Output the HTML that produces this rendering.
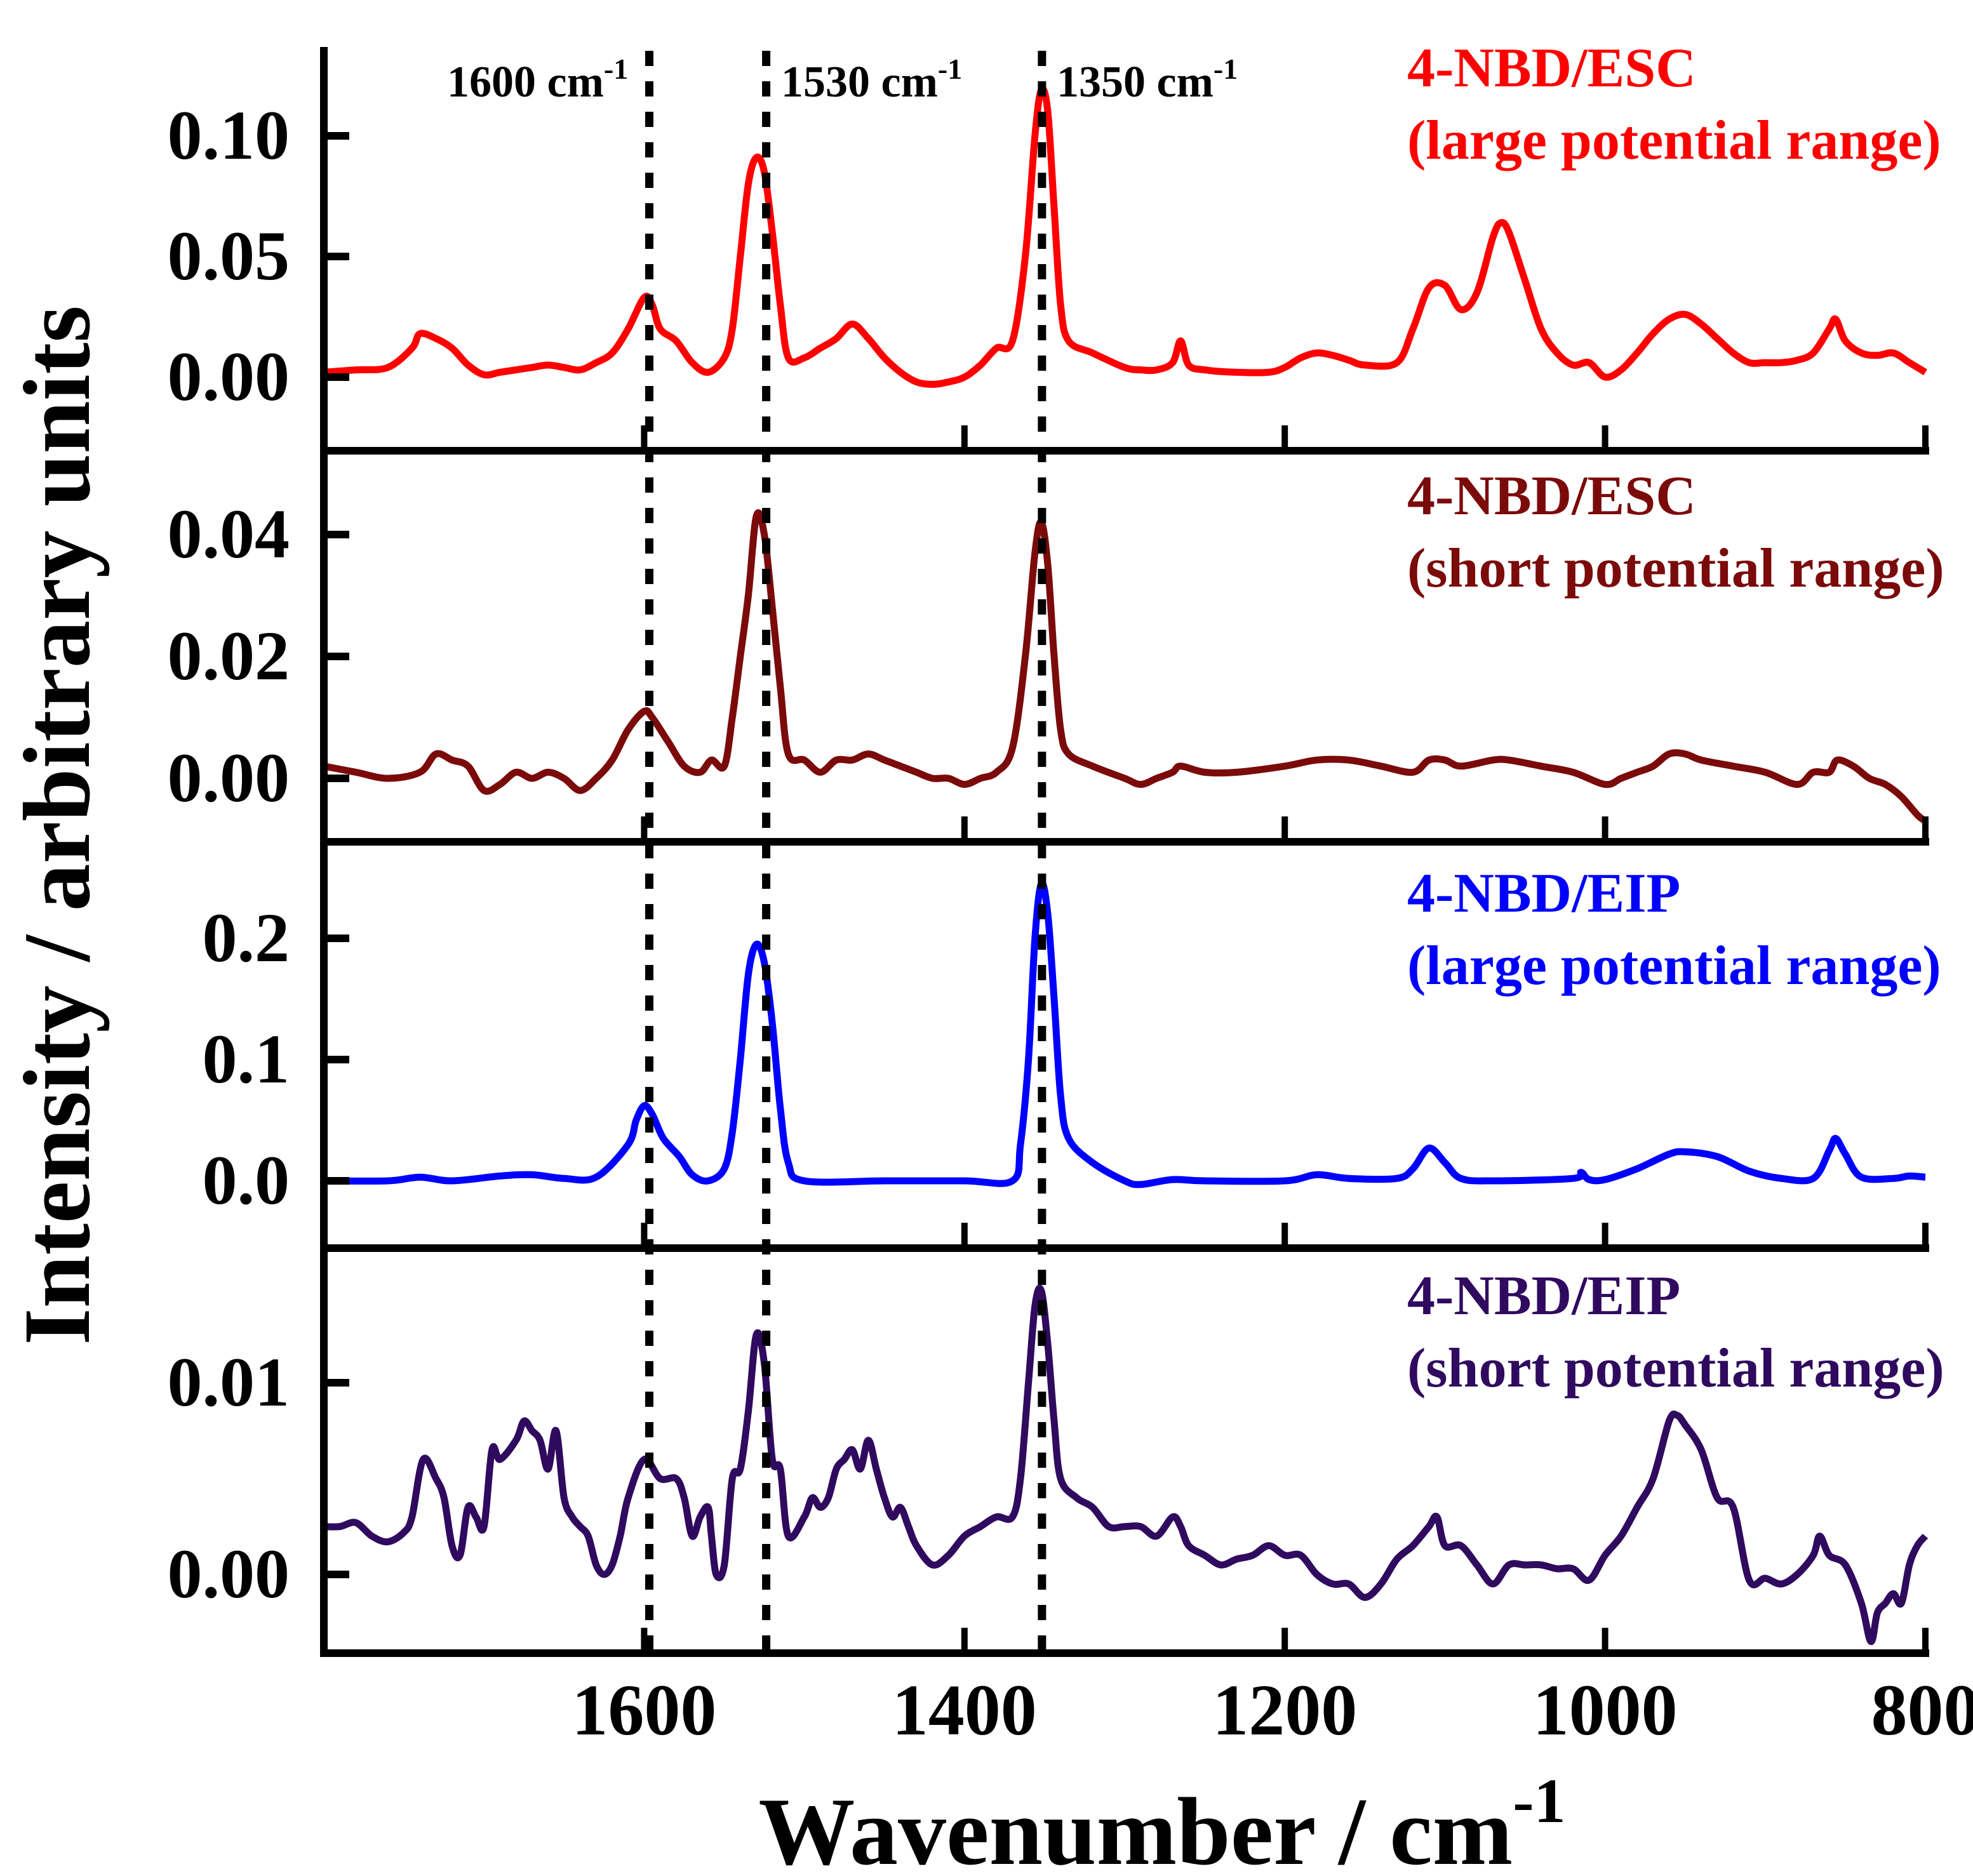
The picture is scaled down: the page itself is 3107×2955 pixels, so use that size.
<!DOCTYPE html>
<html><head><meta charset="utf-8"><style>
html,body{margin:0;padding:0;background:#fff;}
svg{display:block;}
text{font-family:"Liberation Serif",serif;font-weight:bold;}
</style></head><body>
<svg id="chart" width="3107" height="2955" viewBox="0 0 1553.5 1477.5" xmlns="http://www.w3.org/2000/svg">
<g id="lines"></g>
<g id="axes"></g>
<g id="labels"></g>
</svg>
<script>
const xTicks=[1600,1400,1200,1000,800];
const refLinesWn=[1596.8,1523.8,1351.6];
const refLabels=["1600 cm","1530 cm","1350 cm"];
const seriesNames=["4-NBD/ESC|(large potential range)","4-NBD/ESC|(short potential range)","4-NBD/EIP|(large potential range)","4-NBD/EIP|(short potential range)"];
const seriesColors=["#ff0000","#7b0a0a","#0000ff","#2f0a5e"];
const yTicks1=["0.00","0.05","0.10"];const yTickVals1=[0,0.05,0.10];
const yTicks2=["0.00","0.02","0.04"];const yTickVals2=[0,0.02,0.04];
const yTicks3=["0.0","0.1","0.2"];const yTickVals3=[0,0.1,0.2];
const yTicks4=["0.00","0.01"];const yTickVals4=[0,0.01];
const wn1=[1800,1780,1760,1745,1740,1730,1720,1710,1700,1690,1680,1670,1660,1650,1640,1630,1620,1610,1600,1595,1590,1580,1570,1560,1550,1545,1540,1535,1530,1525,1520,1515,1510,1500,1490,1480,1470,1460,1450,1440,1430,1420,1410,1400,1390,1380,1370,1362,1356,1352,1348,1344,1340,1335,1320,1300,1290,1280,1270,1265,1260,1250,1230,1210,1200,1190,1180,1170,1160,1150,1130,1120,1110,1100,1090,1080,1070,1065,1060,1050,1040,1030,1020,1010,1000,990,980,970,960,950,940,930,920,910,900,890,880,870,860,856,850,840,830,820,810,800];
const val1=[0.002,0.003,0.004,0.012,0.018,0.016,0.012,0.005,0.001,0.002,0.003,0.004,0.005,0.004,0.003,0.006,0.010,0.02,0.033,0.03,0.02,0.015,0.006,0.002,0.008,0.02,0.05,0.08,0.091,0.085,0.06,0.03,0.008,0.008,0.012,0.016,0.022,0.016,0.008,0.002,-0.002,-0.003,-0.002,0.0,0.005,0.012,0.015,0.05,0.10,0.119,0.11,0.07,0.03,0.015,0.01,0.004,0.003,0.003,0.006,0.015,0.005,0.003,0.002,0.002,0.004,0.008,0.010,0.009,0.007,0.005,0.006,0.02,0.037,0.038,0.028,0.035,0.058,0.064,0.06,0.04,0.02,0.01,0.005,0.006,0.0,0.003,0.01,0.018,0.024,0.026,0.022,0.016,0.01,0.006,0.006,0.006,0.007,0.01,0.02,0.024,0.015,0.01,0.009,0.01,0.006,0.002];
const wn2=[1800,1780,1760,1740,1730,1720,1710,1700,1690,1680,1670,1660,1650,1640,1630,1620,1610,1600,1595,1585,1575,1565,1558,1550,1545,1540,1535,1530,1525,1520,1515,1510,1500,1490,1480,1470,1460,1450,1440,1430,1420,1410,1400,1390,1380,1370,1362,1356,1352,1348,1344,1340,1335,1320,1300,1290,1280,1270,1265,1250,1230,1200,1180,1160,1140,1120,1110,1100,1090,1070,1060,1040,1020,1000,990,980,970,960,950,940,920,900,880,870,860,855,845,835,825,815,805,800];
const val2=[0.002,0.001,0.0,0.001,0.004,0.003,0.002,-0.002,-0.001,0.001,0.0,0.001,0.0,-0.002,0.0,0.003,0.008,0.011,0.01,0.006,0.002,0.001,0.003,0.002,0.01,0.02,0.03,0.043,0.04,0.028,0.015,0.004,0.003,0.001,0.003,0.003,0.004,0.003,0.002,0.001,0.0,0.0,-0.001,0.0,0.001,0.005,0.02,0.037,0.042,0.035,0.02,0.008,0.004,0.002,0.0,-0.001,0.0,0.001,0.002,0.001,0.001,0.002,0.003,0.003,0.002,0.001,0.003,0.003,0.002,0.003,0.003,0.002,0.001,-0.001,0.0,0.001,0.002,0.004,0.004,0.003,0.002,0.001,-0.001,0.001,0.001,0.003,0.002,0.0,-0.001,-0.003,-0.006,-0.007];
const wn3=[1800,1760,1740,1720,1690,1670,1650,1630,1610,1605,1600,1595,1588,1578,1570,1560,1550,1545,1540,1535,1530,1525,1520,1515,1510,1500,1450,1400,1370,1365,1360,1356,1352,1348,1344,1340,1335,1320,1300,1290,1270,1250,1200,1180,1160,1130,1120,1110,1100,1090,1070,1020,1015,1010,1000,980,960,950,930,910,890,870,860,856,850,840,820,810,800];
const val3=[0.0,0.0,0.003,0.0,0.004,0.005,0.002,0.003,0.03,0.05,0.062,0.055,0.035,0.02,0.005,0.0,0.01,0.04,0.1,0.17,0.195,0.18,0.13,0.06,0.015,0.0,0.0,0.0,0.0,0.03,0.1,0.2,0.245,0.22,0.15,0.07,0.035,0.015,0.0,-0.003,0.001,0.0,0.0,0.005,0.002,0.002,0.01,0.027,0.015,0.002,0.0,0.002,0.007,0.001,0.001,0.01,0.022,0.024,0.02,0.008,0.002,0.002,0.025,0.035,0.022,0.003,0.002,0.004,0.003];
const wn4=[1800,1790,1780,1770,1760,1750,1745,1738,1730,1725,1720,1715,1710,1705,1700,1695,1690,1680,1675,1670,1665,1660,1655,1650,1645,1640,1635,1630,1625,1620,1615,1610,1600,1590,1580,1575,1570,1565,1560,1558,1555,1550,1545,1540,1535,1530,1525,1520,1515,1510,1500,1495,1490,1485,1480,1475,1470,1465,1460,1455,1450,1445,1440,1435,1430,1420,1410,1400,1390,1380,1370,1365,1360,1356,1352,1348,1344,1340,1330,1320,1310,1300,1290,1280,1270,1265,1260,1250,1240,1230,1220,1210,1200,1190,1180,1170,1160,1150,1140,1130,1120,1110,1105,1100,1090,1080,1070,1060,1050,1040,1030,1020,1010,1000,990,980,970,960,955,950,940,930,920,910,900,890,880,870,866,860,850,840,834,830,825,820,815,810,805,800];
const val4=[0.0025,0.0025,0.0027,0.002,0.0017,0.0022,0.003,0.006,0.005,0.004,0.0015,0.001,0.0035,0.003,0.0025,0.0065,0.006,0.007,0.008,0.0075,0.007,0.0055,0.0075,0.004,0.003,0.0025,0.002,0.0005,0.0,0.0005,0.002,0.004,0.006,0.005,0.005,0.004,0.002,0.003,0.0035,0.002,0.0,0.0005,0.005,0.0055,0.0085,0.0125,0.011,0.006,0.0055,0.002,0.003,0.004,0.0035,0.004,0.0055,0.006,0.0065,0.0055,0.007,0.0055,0.004,0.003,0.0035,0.0025,0.0015,0.0005,0.001,0.002,0.0025,0.003,0.003,0.005,0.01,0.014,0.0148,0.012,0.008,0.005,0.004,0.0035,0.0025,0.0025,0.0025,0.002,0.003,0.0025,0.0015,0.001,0.0005,0.0008,0.001,0.0015,0.001,0.001,0.0,-0.0005,-0.0005,-0.0012,-0.0005,0.0008,0.0015,0.0025,0.003,0.0015,0.0015,0.0005,-0.0005,0.0005,0.0005,0.0005,0.0003,0.0003,-0.0003,0.001,0.002,0.0035,0.005,0.008,0.0083,0.0078,0.0065,0.004,0.0035,-0.0003,-0.0002,-0.0005,0.0,0.001,0.002,0.001,0.0005,-0.0015,-0.0035,-0.002,-0.0015,-0.001,-0.0015,0.0005,0.0015,0.002];

const NS="http://www.w3.org/2000/svg";
const X0=255,X1=1516;
function xScale(w){return X0+(1800-w)*(X1-X0)/1000;}
const panels=[
 {top:37,bottom:355,y0:297,ppu:1900,wn:wn1,val:val1,tl:yTicks1,tv:yTickVals1,ly:68},
 {top:355,bottom:663,y0:613,ppu:4800,wn:wn2,val:val2,tl:yTicks2,tv:yTickVals2,ly:405},
 {top:663,bottom:983,y0:930,ppu:955,wn:wn3,val:val3,tl:yTicks3,tv:yTickVals3,ly:718},
 {top:983,bottom:1302,y0:1240,ppu:15100,wn:wn4,val:val4,tl:yTicks4,tv:yTickVals4,ly:1035}
];
function mk(tag,attrs,parent,txt){const e=document.createElementNS(NS,tag);for(const k in attrs)e.setAttribute(k,attrs[k]);if(txt!==undefined)e.textContent=txt;parent.appendChild(e);return e;}
function smoothPath(P){let d='M'+P[0][0].toFixed(1)+','+P[0][1].toFixed(1);
 for(let i=0;i<P.length-1;i++){const p0=P[Math.max(0,i-1)],p1=P[i],p2=P[i+1],p3=P[Math.min(P.length-1,i+2)];
  const c1=[p1[0]+(p2[0]-p0[0])/6,p1[1]+(p2[1]-p0[1])/6],c2=[p2[0]-(p3[0]-p1[0])/6,p2[1]-(p3[1]-p1[1])/6];
  d+='C'+c1.map(v=>v.toFixed(1)).join(',')+' '+c2.map(v=>v.toFixed(1)).join(',')+' '+p2[0].toFixed(1)+','+p2[1].toFixed(1);}
 return d;}
const gL=document.getElementById('lines'),gA=document.getElementById('axes'),gT=document.getElementById('labels');
panels.forEach((p,i)=>{
  const yS=v=>p.y0-v*p.ppu;
  const P=p.wn.map((w,j)=>[xScale(w),yS(p.val[j])]);
  const pl=mk('path',{d:smoothPath(P),fill:'none',stroke:seriesColors[i],'stroke-width':5.5,'stroke-linejoin':'round'},gL);
  
  
  const ax=mk('line',{x1:X0-3,x2:X1+3,y1:p.bottom,y2:p.bottom,stroke:'#000','stroke-width':6},gA);
  
  
  xTicks.forEach(t=>{
    const tk=mk('line',{x1:xScale(t),x2:xScale(t),y1:p.bottom,y2:p.bottom-20,stroke:'#000','stroke-width':5},gA);
    
    
  });
  p.tv.forEach((v,k)=>{
    const tk=mk('line',{x1:X0,x2:X0+20,y1:yS(v),y2:yS(v),stroke:'#000','stroke-width':6},gA);
    
    
    const tx=mk('text',{x:228,y:yS(v)+18,'text-anchor':'end','font-size':55},gT,p.tl[k]);
    
    
  });
  const parts=seriesNames[i].split('|');
  const lg=mk('text',{x:1108,'font-size':44,fill:seriesColors[i]},gT);
  
  
  mk('tspan',{x:1108,y:p.ly},lg,parts[0]);
  mk('tspan',{x:1108,y:p.ly+57},lg,parts[1]);
});
const yax=mk('line',{x1:X0,x2:X0,y1:37,y2:1305,stroke:'#000','stroke-width':6},gA);


refLinesWn.forEach((w,i)=>{
  const l=mk('line',{x1:xScale(w),x2:xScale(w),y1:40,y2:1302,stroke:'#000','stroke-width':6.5,'stroke-dasharray':'12 12'},gA);
  
  
});
const rlx=[352,615,832];
refLabels.forEach((s,i)=>{
  const t=mk('text',{x:rlx[i],y:76,'font-size':35},gT);
  
  
  mk('tspan',{},t,s);
  mk('tspan',{dy:-14,'font-size':23},t,'-1');
});
xTicks.forEach(t=>{
  const tx=mk('text',{x:xScale(t),y:1366,'text-anchor':'middle','font-size':57},gT,String(t));
  
  
});
const xt=mk('text',{x:915,y:1468,'text-anchor':'middle','font-size':76},gT);


mk('tspan',{},xt,'Wavenumber / cm');
mk('tspan',{dy:-33,'font-size':50},xt,'-1');
const yt=mk('text',{x:0,y:0,'text-anchor':'middle','font-size':75,transform:'translate(70,650) rotate(-90)'},gT,'Intensity / arbitrary units');


</script>
</body></html>
